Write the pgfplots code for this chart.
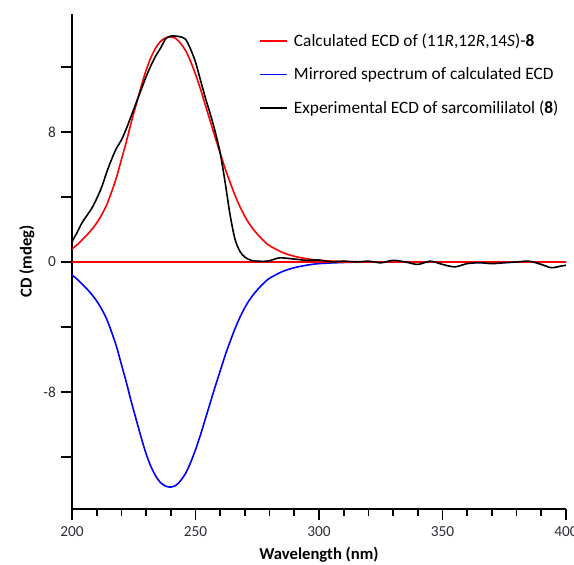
\documentclass[border=0pt]{standalone}
\usepackage{fontspec}
\setmainfont{Carlito}
\usepackage{pgfplots}
\pgfplotsset{compat=1.18}
\definecolor{ticktext}{RGB}{45,45,55}

\begin{document}
\begin{tikzpicture}
\begin{axis}[
    scale only axis,
    width=370.5pt, height=371.25pt,
    xmin=200, xmax=400,
    ymin=-15.2, ymax=15.26,
    axis lines=left,
    axis line style={-, line width=1.5pt},
    xtick={200,250,300,350,400},
    minor x tick num=4,
    ytick={-12,-8,-4,0,4,8,12},
    yticklabels={,{-8},,0,,8,},
    tick align=outside,
    major tick length=8.5pt,
    minor tick length=5.5pt,
    tick style={line width=1.3pt, black},
    /pgf/number format/assume math mode=true,
    tick label style={font=\fontsize{11.5}{13}\selectfont, text=ticktext},
    xticklabel style={yshift=-1pt},
    xlabel={\textbf{Wavelength (nm)}},
    ylabel={\textbf{CD (mdeg)}},
    label style={font=\fontsize{12.5}{14}\selectfont},
    xlabel style={yshift=-1.5pt},
    ylabel style={yshift=0pt},
    legend style={at={(0.37,0.972)}, anchor=north west, draw=none, fill=none,
        font=\fontsize{13}{15}\selectfont, row sep=10.5pt, legend cell align=left},
    legend image code/.code={\draw[#1] (0pt,0pt) -- (20pt,0pt); \path (23pt,0pt);},
    clip=false,
]
\addplot[red, line width=1.2pt, smooth] coordinates {
    (200,0.8) (202,1.05) (204,1.35) (206,1.65) (208,2.0) (210,2.4) (212,2.9)
    (214,3.5) (216,4.3) (218,5.2) (220,6.3) (222,7.4) (224,8.6) (226,9.7)
    (228,10.8) (230,11.8) (232,12.6) (234,13.2) (236,13.6) (238,13.8) (240,13.85)
    (242,13.75) (244,13.45) (246,13.0) (248,12.35) (250,11.55) (252,10.65)
    (254,9.65) (256,8.65) (258,7.65) (260,6.7) (262,5.75) (264,4.9) (266,4.1)
    (268,3.4) (270,2.8) (272,2.3) (274,1.9) (276,1.55) (278,1.25) (280,1.0)
    (285,0.6) (290,0.35) (295,0.2) (300,0.1) (310,0.03) (320,0.01) (400,0)
};
\addlegendentry{Calculated ECD of (11\textit{R},12\textit{R},14\textit{S})-\textbf{8}}

\addplot[blue, line width=1.2pt, smooth] coordinates {
    (200,-0.8) (202,-1.05) (204,-1.35) (206,-1.65) (208,-2.0) (210,-2.4) (212,-2.9)
    (214,-3.5) (216,-4.3) (218,-5.2) (220,-6.3) (222,-7.4) (224,-8.6) (226,-9.7)
    (228,-10.8) (230,-11.8) (232,-12.6) (234,-13.2) (236,-13.6) (238,-13.8) (240,-13.85)
    (242,-13.75) (244,-13.45) (246,-13.0) (248,-12.35) (250,-11.55) (252,-10.65)
    (254,-9.65) (256,-8.65) (258,-7.65) (260,-6.7) (262,-5.75) (264,-4.9) (266,-4.1)
    (268,-3.4) (270,-2.8) (272,-2.3) (274,-1.9) (276,-1.55) (278,-1.25) (280,-1.0)
    (285,-0.6) (290,-0.35) (295,-0.2) (300,-0.1) (310,-0.03) (320,-0.01) (400,0)
};
\addlegendentry{Mirrored spectrum of calculated ECD}

\addplot[red, line width=1.2pt, forget plot] coordinates {(200,0) (400,0)};

\addplot[black, line width=1.2pt, smooth] coordinates {
    (200,1.25) (202,1.8) (204,2.4) (206,2.85) (208,3.3) (210,3.9) (212,4.6)
    (214,5.5) (216,6.3) (218,7.0) (220,7.5) (222,8.2) (224,9.0) (226,9.8)
    (228,10.6) (230,11.4) (232,12.1) (234,12.7) (236,13.2) (238,13.75)
    (240,13.9) (242,13.9) (244,13.85) (246,13.7) (248,13.1) (250,12.3)
    (252,11.2) (254,10.1) (256,9.1) (258,8.0) (260,6.7) (262,4.9) (264,2.9)
    (266,1.4) (268,0.65) (270,0.3) (273,0.08) (279,0.05) (284,0.25) (290,0.18)
    (295,0.1) (300,0.12) (305,0.0) (310,0.05) (315,0.0) (320,0.05) (325,-0.05)
    (330,0.1) (335,0.0) (340,-0.15) (345,0.05) (350,-0.15) (355,-0.3) (360,-0.1)
    (365,-0.05) (370,-0.1) (375,-0.05) (380,0.0) (385,0.05) (390,-0.15)
    (394,-0.35) (398,-0.25) (400,-0.2)
};
\addlegendentry{Experimental ECD of sarcomililatol (\textbf{8})}
\end{axis}
\pgfresetboundingbox
\path ([xshift=-54pt,yshift=-41.25pt]current axis.south west)
    rectangle ([xshift=6pt,yshift=10.5pt]current axis.north east);
\end{tikzpicture}
\end{document}
